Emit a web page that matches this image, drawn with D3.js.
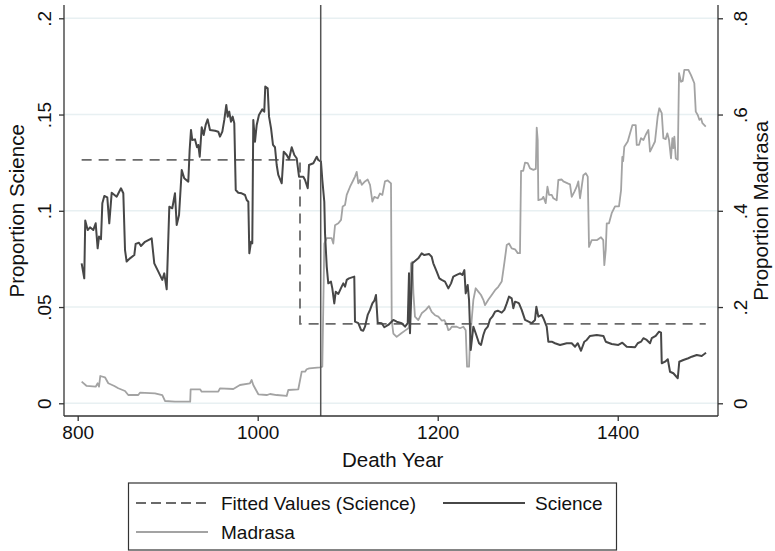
<!DOCTYPE html>
<html>
<head>
<meta charset="utf-8">
<script src="https://cdn.jsdelivr.net/npm/d3@7"></script>
<style>
  body { margin: 0; background: #fff; }
  svg { display: block; font-family: "Liberation Sans", Arial, sans-serif; }
</style>
</head>
<body>
<script>
// rolling shares by death year
var science = [[804.4,.0727],[807.3,.0649],[808.4,.0949],[811.1,.0900],[813.7,.0914],[817.3,.0900],[820,.0935],[822.2,.0805],[823.7,.0866],[825.9,.0852],[827.4,.1039],[829.6,.1077],[832.9,.1070],[835.1,.0935],[837.8,.1094],[843.3,.1073],[848.1,.1117],[850.7,.1091],[852.6,.0796],[854.4,.0736],[858.1,.0753],[862.9,.0770],[864.4,.0828],[868.1,.0834],[870.3,.0817],[874.8,.0839],[882.2,.0857],[885.1,.0727],[889.6,.0684],[894,.0641],[896.2,.0675],[898.9,.0592],[901.8,.1021],[905.1,.1013],[908.1,.1091],[910,.0926],[912.6,.0978],[915.6,.1212],[918.4,.1169],[922.9,.1151],[924.4,.1316],[925.9,.1420],[927.3,.1368],[930.3,.1371],[932.6,.1330],[934,.1342],[935.6,.1281],[937.8,.1434],[940,.1394],[942.2,.1446],[944.4,.1475],[947,.1420],[952.6,.1416],[956.2,.1411],[958.1,.1385],[960.7,.1411],[962.9,.1472],[965.1,.1550],[966.7,.1489],[968.4,.1515],[970.3,.1463],[972.2,.1489],[974,.1455],[975.6,.1108],[978.4,.1094],[982.2,.1091],[985.9,.1082],[987.8,.1056],[989.6,.1047],[990.7,.0779],[992.6,.0839],[994,.0831],[995.1,.1472],[997,.1359],[998.9,.1446],[1001.4,.1498],[1005.1,.1527],[1007.3,.1515],[1008.4,.1645],[1011.1,.1636],[1012.6,.1489],[1014.8,.1429],[1017,.1342],[1019.2,.1330],[1021.1,.1238],[1022.9,.1186],[1026.7,.1143],[1028.9,.1307],[1032.2,.1290],[1034.8,.1268],[1037.8,.1330],[1040.7,.1290],[1043.3,.1273],[1045.9,.1177],[1050.7,.1177],[1052.6,.1160],[1055.6,.1117],[1057,.1238],[1061.8,.1247],[1065.6,.1281],[1067.3,.1264],[1070.3,.1255],[1071.8,.1160],[1074,.1047],[1074.8,.0883],[1076.7,.0710],[1078.4,.0623],[1081.4,.0632],[1082.9,.0597],[1085.1,.0519],[1086.7,.0580],[1089.6,.0568],[1093.3,.0606],[1095.1,.0623],[1097,.0606],[1098.9,.0641],[1101.4,.0649],[1107.3,.0658],[1108.1,.0424],[1111.8,.0416],[1114.8,.0381],[1117.3,.0377],[1119.2,.0398],[1122.2,.0459],[1124.8,.0485],[1127.4,.0519],[1129.6,.0533],[1131.4,.0563],[1133.3,.0419],[1137.8,.0416],[1140.7,.0395],[1145.1,.0407],[1150.7,.0433],[1154.4,.0424],[1160,.0416],[1163.7,.0398],[1166.7,.0416],[1168.1,.0675],[1169.2,.0364],[1171.8,.0727],[1178.4,.0753],[1182.2,.0779],[1185.1,.0770],[1190.3,.0776],[1193.3,.0761],[1195.1,.0727],[1198.9,.0684],[1201.8,.0649],[1204.4,.0641],[1208.1,.0632],[1211.8,.0597],[1214.8,.0623],[1217.3,.0658],[1221.1,.0667],[1224.8,.0675],[1227.4,.0667],[1229.6,.0692],[1231.1,.0571],[1233.3,.0615],[1234.8,.0537],[1236.7,.0277],[1239.6,.0398],[1242.2,.0364],[1245.9,.0312],[1248.1,.0303],[1250.7,.0355],[1252.6,.0381],[1255.6,.0398],[1258.1,.0436],[1260.7,.0450],[1263.7,.0476],[1266.7,.0481],[1271.1,.0471],[1274,.0485],[1276.7,.0519],[1279.2,.0554],[1282.2,.0545],[1284,.0494],[1285.9,.0528],[1288.9,.0523],[1290.3,.0519],[1293.3,.0485],[1297,.0433],[1304.4,.0416],[1308.1,.0433],[1309.6,.0502],[1311.8,.0450],[1315.6,.0459],[1317.4,.0442],[1321.1,.0398],[1322.9,.0320],[1326.7,.0320],[1330.3,.0312],[1335.9,.0303],[1343.3,.0312],[1348.9,.0312],[1352.6,.0294],[1355.6,.0312],[1359.2,.0273],[1362.9,.0320],[1365.6,.0329],[1369.2,.0350],[1376.7,.0355],[1384.1,.0350],[1386.7,.0320],[1393.3,.0308],[1400.7,.0303],[1405.1,.0315],[1410,.0294],[1419.2,.0291],[1422.2,.0312],[1425.9,.0320],[1428.5,.0338],[1432.2,.0329],[1435.9,.0312],[1437.8,.0338],[1442.2,.0350],[1445.9,.0372],[1448.1,.0367],[1448.9,.0208],[1452.6,.0216],[1455.6,.0229],[1458.1,.0164],[1461.8,.0156],[1466.7,.0130],[1468.4,.0216],[1472.9,.0225],[1478.4,.0234],[1482.2,.0242],[1487.8,.0251],[1493.3,.0246],[1496.2,.0256],[1498.1,.0263]];

var madrasa = [[804.4,.0449],[810,.0360],[820,.0345],[822.2,.0416],[823.7,.0345],[825.1,.0567],[830.3,.0540],[834,.0416],[840.7,.0360],[845.1,.0312],[852.6,.0256],[856.2,.0172],[867.3,.0172],[869.2,.0220],[885.9,.0208],[894,.0172],[897,.0048],[908.1,.0033],[925,.0033],[925.5,.0291],[936,.0291],[937.8,.0241],[956.2,.0241],[958.1,.0312],[972.9,.0297],[980.3,.0380],[991.4,.0416],[993.3,.0484],[995.1,.0380],[1000.7,.0187],[1010,.0172],[1013.7,.0193],[1021.1,.0172],[1032.2,.0152],[1034,.0276],[1045.1,.0291],[1048.9,.0657],[1052.6,.0657],[1054.4,.0707],[1057.3,.0727],[1069.2,.0748],[1071.8,.0761],[1074,.332],[1076.7,.343],[1082.2,.343],[1084,.332],[1085.9,.370],[1089.6,.374],[1092.6,.381],[1094.4,.409],[1097,.412],[1098.9,.433],[1102.6,.450],[1106.3,.464],[1108.1,.471],[1110,.481],[1111.8,.457],[1113.7,.464],[1115.6,.454],[1119.2,.461],[1122.2,.465],[1124.8,.454],[1127.4,.419],[1129.6,.429],[1133.3,.426],[1135.9,.436],[1138.5,.433],[1141.4,.461],[1144.4,.463],[1148.1,.457],[1148.9,.173],[1150.7,.145],[1154.4,.138],[1159.2,.145],[1164.4,.152],[1167.4,.156],[1168.1,.159],[1170.3,.291],[1171.8,.294],[1173,.229],[1174.7,.180],[1178.4,.173],[1182.2,.187],[1186.7,.194],[1190.3,.202],[1193.3,.190],[1197,.183],[1200.7,.180],[1204.4,.172],[1207.4,.173],[1210,.163],[1211.8,.152],[1213.7,.154],[1215.6,.159],[1221.1,.159],[1224.8,.156],[1228.5,.159],[1231.1,.152],[1232.6,.076],[1234.8,.076],[1235.9,.132],[1239.6,.215],[1242.2,.239],[1245.1,.232],[1248.1,.225],[1250.7,.215],[1252.6,.204],[1256.2,.215],[1260,.225],[1263.7,.235],[1267.3,.242],[1271.1,.253],[1274,.291],[1276.7,.329],[1279.2,.332],[1282.2,.322],[1285.9,.320],[1288.9,.312],[1291.4,.312],[1292.6,.483],[1295,.483],[1297,.500],[1300,.499],[1302.6,.488],[1306.3,.485],[1309,.487],[1310,.573],[1311.1,.547],[1311.8,.422],[1315.6,.424],[1317.4,.429],[1320,.416],[1321.9,.450],[1323.7,.433],[1326.7,.433],[1328.5,.426],[1332.2,.422],[1334,.464],[1337.8,.465],[1339.6,.461],[1344.4,.457],[1347,.455],[1348.9,.429],[1351.9,.440],[1354.4,.450],[1356.2,.461],[1358.1,.426],[1361.8,.474],[1364.5,.478],[1366.7,.471],[1368.1,.325],[1371.1,.339],[1376.7,.339],[1381.4,.345],[1383.9,.339],[1385.1,.287],[1386.7,.319],[1387.8,.374],[1390.3,.374],[1393.3,.395],[1397,.409],[1401.4,.409],[1403.7,.443],[1405.1,.512],[1406,.503],[1407.3,.533],[1411.1,.544],[1413.7,.561],[1416.3,.578],[1420,.578],[1421.1,.537],[1423.7,.537],[1425.9,.551],[1428.5,.547],[1431.1,.558],[1434,.568],[1435.9,.523],[1438.5,.533],[1441.4,.544],[1444.4,.596],[1446.2,.613],[1448.9,.603],[1450.7,.551],[1453.3,.549],[1455.1,.561],[1457,.547],[1459.2,.509],[1460.7,.551],[1461.8,.530],[1462.9,.554],[1464.5,.509],[1466.7,.506],[1468.1,.686],[1470.3,.668],[1472.2,.670],[1474,.693],[1478.4,.693],[1481.4,.682],[1485.1,.665],[1486.7,.606],[1488.9,.599],[1490.7,.589],[1492.6,.592],[1494.1,.582],[1497.8,.575]];

var fitted = [[804.4,.1265],[1047,.1265],[1047,.0413],[1497.8,.0413]];
var cutoffYear = 1070;

var xTicks = [800, 1000, 1200, 1400];
var leftTicks = [0, .05, .1, .15, .2];
var leftTickLabels = ["0", ".05", ".1", ".15", ".2"];
var rightTicks = [0, .2, .4, .6, .8];
var rightTickLabels = ["0", ".2", ".4", ".6", ".8"];

var width = 775, height = 551;
var plot = {left: 64, right: 718, top: 5, bottom: 416};
var fontSize = 19;
var titleSize = 20.5;

var svg = d3.select("body").append("svg")
    .attr("width", width)
    .attr("height", height)
    .style("font-size", fontSize + "px");

var x = d3.scaleLinear().domain([784.8, 1511.4]).range([plot.left, plot.right]);
var y = d3.scaleLinear().domain([-0.0066, 0.2069]).range([plot.bottom, plot.top]);
var y2 = d3.scaleLinear().domain([-0.0264, 0.8276]).range([plot.bottom, plot.top]);

// grid
svg.append("g").selectAll("line")
    .data(leftTicks)
    .join("line")
    .attr("x1", plot.left).attr("x2", plot.right)
    .attr("y1", d => y(d)).attr("y2", d => y(d))
    .attr("stroke", "#e8f0f2")
    .attr("stroke-width", 1.5);

var line = d3.line().x(d => x(d[0]));

svg.append("path")
    .datum(madrasa)
    .attr("fill", "none")
    .attr("stroke", "#a3a3a3")
    .attr("stroke-width", 1.8)
    .attr("stroke-linejoin", "round")
    .attr("d", line.y(d => y2(d[1])));

svg.append("path")
    .datum(fitted)
    .attr("fill", "none")
    .attr("stroke", "#6a6a6a")
    .attr("stroke-width", 1.8)
    .attr("stroke-dasharray", "10,7")
    .attr("d", line.y(d => y(d[1])));

svg.append("path")
    .datum(science)
    .attr("fill", "none")
    .attr("stroke", "#474747")
    .attr("stroke-width", 2)
    .attr("stroke-linejoin", "round")
    .attr("d", line.y(d => y(d[1])));

svg.append("line")
    .attr("x1", x(cutoffYear)).attr("x2", x(cutoffYear))
    .attr("y1", plot.top).attr("y2", plot.bottom)
    .attr("stroke", "#555")
    .attr("stroke-width", 1.5);

// axes
var axisColor = "#333";
var xAxis = svg.append("g")
    .attr("transform", `translate(0,${plot.bottom})`)
    .call(d3.axisBottom(x).tickValues(xTicks).tickSize(5).tickPadding(5).tickFormat(d3.format("d")));
xAxis.select(".domain").attr("d", `M${plot.left},0H${plot.right}`);

var yAxis = svg.append("g")
    .attr("transform", `translate(${plot.left},0)`)
    .call(d3.axisLeft(y).tickValues(leftTicks).tickSize(5).tickFormat((d, i) => leftTickLabels[i]));
yAxis.select(".domain").attr("d", `M0,${plot.top}V${plot.bottom}`);
yAxis.selectAll(".tick text")
    .attr("x", 0)
    .attr("text-anchor", "middle")
    .attr("transform", "translate(-20,0) rotate(-90)")
    .attr("dy", "0.35em");

var y2Axis = svg.append("g")
    .attr("transform", `translate(${plot.right},0)`)
    .call(d3.axisRight(y2).tickValues(rightTicks).tickSize(5).tickFormat((d, i) => rightTickLabels[i]));
y2Axis.select(".domain").attr("d", `M0,${plot.top}V${plot.bottom}`);
y2Axis.selectAll(".tick text")
    .attr("x", 0)
    .attr("text-anchor", "middle")
    .attr("transform", "translate(22,0) rotate(-90)")
    .attr("dy", "0.35em");

svg.selectAll(".domain, .tick line").attr("stroke", axisColor).attr("stroke-width", 1.3);
svg.selectAll(".tick text").attr("fill", "#111").style("font-size", fontSize + "px")
    .style("font-family", "'Liberation Sans', Arial, sans-serif");

// axis titles
svg.append("text")
    .attr("transform", `translate(17,${(y(0) + y(0.2)) / 2}) rotate(-90)`)
    .attr("text-anchor", "middle")
    .attr("dy", "0.35em")
    .attr("fill", "#111")
    .style("font-size", titleSize + "px")
    .text("Proportion Science");

svg.append("text")
    .attr("transform", `translate(761,${(y(0) + y(0.2)) / 2}) rotate(-90)`)
    .attr("text-anchor", "middle")
    .attr("dy", "0.35em")
    .attr("fill", "#111")
    .style("font-size", titleSize + "px")
    .text("Proportion Madrasa");

svg.append("text")
    .attr("x", x(1150))
    .attr("y", 467)
    .attr("text-anchor", "middle")
    .attr("fill", "#111")
    .style("font-size", titleSize + "px")
    .text("Death Year");

// legend
var legend = svg.append("g");
legend.append("rect")
    .attr("x", 128.5).attr("y", 483)
    .attr("width", 488).attr("height", 67)
    .attr("fill", "#fff")
    .attr("stroke", "#333")
    .attr("stroke-width", 1.2);

var legendItems = [
    {label: "Fitted Values (Science)", color: "#6a6a6a", dash: "10,5", x: 136, y: 503},
    {label: "Science", color: "#474747", dash: null, x: 443, y: 503},
    {label: "Madrasa", color: "#a3a3a3", dash: null, x: 136, y: 532}
];
var item = legend.selectAll("g.item")
    .data(legendItems)
    .join("g")
    .attr("class", "item")
    .attr("transform", d => `translate(${d.x},${d.y})`);
item.append("line")
    .attr("x1", 0).attr("x2", d => d.label == "Science" ? 82 : 72)
    .attr("stroke", d => d.color)
    .attr("stroke-width", 1.8)
    .attr("stroke-dasharray", d => d.dash);
item.append("text")
    .attr("x", d => d.label == "Science" ? 92 : 85)
    .attr("dy", "0.35em")
    .attr("fill", "#111")
    .text(d => d.label);
</script>
</body>
</html>
